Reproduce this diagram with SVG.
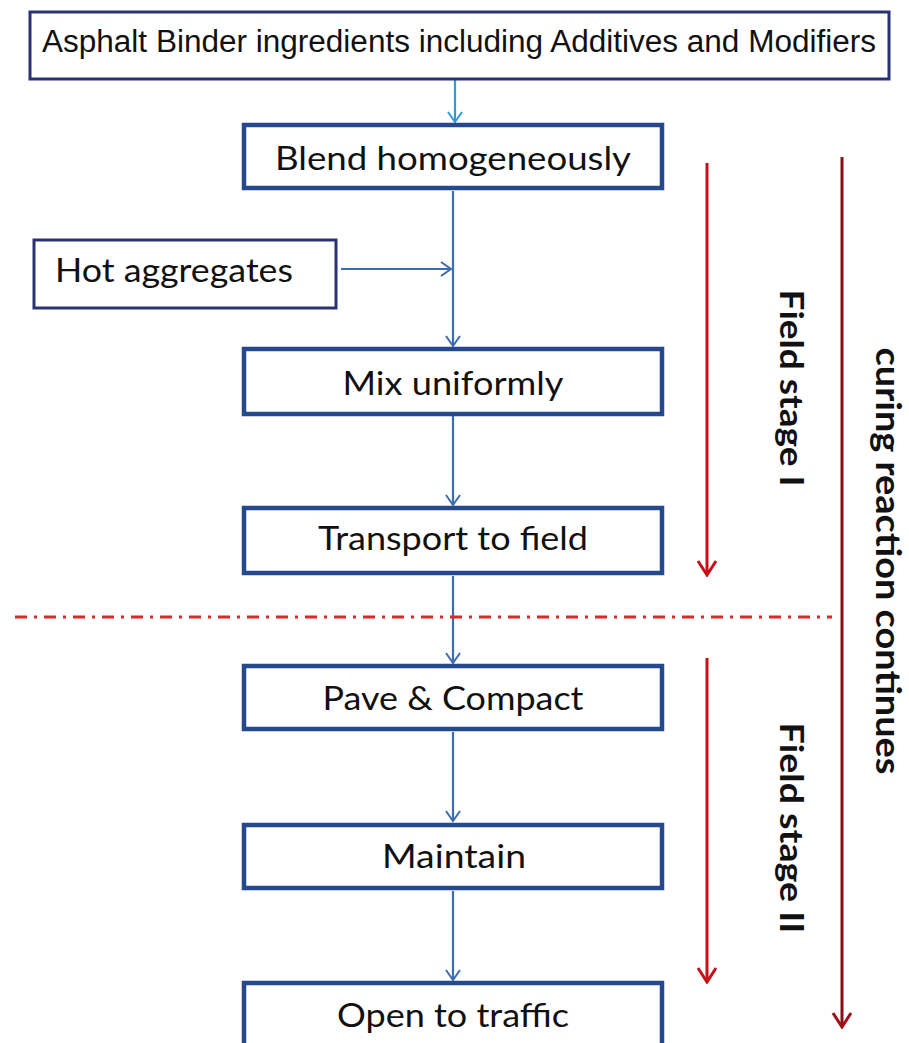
<svg xmlns="http://www.w3.org/2000/svg" width="909" height="1043" viewBox="0 0 909 1043">
<style>
.box{fill:#ffffff;stroke:#25498a;stroke-width:4.5}
.inbox{fill:#ffffff;stroke:#2b3274;stroke-width:3}
.lbl{font-family:Lato,"Open Sans","Liberation Sans",sans-serif;font-size:32px;fill:#111111;text-anchor:middle}
.arial{font-family:"Liberation Sans",Arial,sans-serif;font-size:31px;fill:#111111}
.side{font-family:Lato,"Open Sans","Liberation Sans",sans-serif;font-weight:bold;fill:#111111;text-anchor:middle}
.conn{fill:none;stroke:#3d6db0;stroke-width:2.2}
.red{fill:none;stroke:#c8101a;stroke-width:3}
.dark{fill:none;stroke:#8a0f14;stroke-width:3}
</style>
<defs>
<marker id="ab" viewBox="-12 -8 14 16" refX="0" refY="0" markerWidth="14" markerHeight="16" markerUnits="userSpaceOnUse" orient="auto">
<path d="M-10,-7 L0,0 L-10,7" fill="none" stroke="#3d6db0" stroke-width="2"/>
</marker>
<marker id="alb" viewBox="-12 -8 14 16" refX="0" refY="0" markerWidth="14" markerHeight="16" markerUnits="userSpaceOnUse" orient="auto">
<path d="M-10,-7 L0,0 L-10,7" fill="none" stroke="#2f9bd7" stroke-width="2"/>
</marker>
<marker id="ar" viewBox="-16 -11 18 22" refX="0" refY="0" markerWidth="18" markerHeight="22" markerUnits="userSpaceOnUse" orient="auto">
<path d="M-14,-9 L0,0 L-14,9" fill="none" stroke="#c8101a" stroke-width="3"/>
</marker>
<marker id="ad" viewBox="-16 -11 18 22" refX="0" refY="0" markerWidth="18" markerHeight="22" markerUnits="userSpaceOnUse" orient="auto">
<path d="M-14,-9 L0,0 L-14,9" fill="none" stroke="#a3101a" stroke-width="3"/>
</marker>
</defs>
<rect x="0" y="0" width="909" height="1043" fill="#ffffff"/>

<g id="connectors">
<line class="conn" x1="455" y1="80" x2="455" y2="122" style="stroke:#2f9bd7" marker-end="url(#alb)"/>
<line class="conn" x1="453" y1="191" x2="453" y2="346" marker-end="url(#ab)"/>
<line class="conn" x1="341" y1="269" x2="451" y2="269" marker-end="url(#ab)"/>
<line class="conn" x1="453" y1="416" x2="453" y2="505" marker-end="url(#ab)"/>
<line class="conn" x1="453" y1="576" x2="453" y2="663" marker-end="url(#ab)"/>
<line class="conn" x1="453" y1="732" x2="453" y2="821" marker-end="url(#ab)"/>
<line class="conn" x1="453" y1="891" x2="453" y2="980" marker-end="url(#ab)"/>
</g>

<g id="stage-divider">
<line x1="15" y1="617" x2="832" y2="617" stroke="#d42a2a" stroke-width="3" stroke-dasharray="12 7 3 7"/>
</g>

<g id="stage-arrows">
<line class="red" x1="707" y1="163" x2="707" y2="575" marker-end="url(#ar)"/>
<line class="red" x1="707" y1="658" x2="707" y2="982" marker-end="url(#ar)"/>
<line class="dark" x1="842" y1="157" x2="842" y2="1027" marker-end="url(#ad)"/>
</g>

<g id="node-ingredients">
<rect class="inbox" x="30" y="12" width="859" height="67"/>
<text class="arial" x="42" y="52" textLength="834" lengthAdjust="spacingAndGlyphs">Asphalt Binder ingredients including Additives and Modifiers</text>
</g>
<g id="node-blend">
<rect class="box" x="244" y="125" width="418" height="63"/>
<text class="lbl" x="453" y="170" textLength="356" lengthAdjust="spacingAndGlyphs">Blend homogeneously</text>
</g>
<g id="node-hot">
<rect class="inbox" x="34" y="240" width="302" height="68"/>
<text class="lbl" x="55" y="282" style="text-anchor:start" textLength="238" lengthAdjust="spacingAndGlyphs">Hot aggregates</text>
</g>
<g id="node-mix">
<rect class="box" x="244" y="349" width="418" height="65"/>
<text class="lbl" x="453" y="395" textLength="221" lengthAdjust="spacingAndGlyphs">Mix uniformly</text>
</g>
<g id="node-transport">
<rect class="box" x="244" y="508" width="418" height="65"/>
<text class="lbl" x="453" y="550" textLength="270" lengthAdjust="spacingAndGlyphs">Transport to field</text>
</g>
<g id="node-pave">
<rect class="box" x="244" y="666" width="418" height="63"/>
<text class="lbl" x="453" y="710" textLength="261" lengthAdjust="spacingAndGlyphs">Pave &amp; Compact</text>
</g>
<g id="node-maintain">
<rect class="box" x="244" y="825" width="418" height="63"/>
<text class="lbl" x="454" y="868" textLength="144" lengthAdjust="spacingAndGlyphs">Maintain</text>
</g>
<g id="node-open">
<rect class="box" x="244" y="983" width="418" height="80"/>
<text class="lbl" x="453" y="1027" textLength="232" lengthAdjust="spacingAndGlyphs">Open to traffic</text>
</g>

<g id="label-stage1">
<text class="side" font-size="32" transform="translate(780,388) rotate(90)" textLength="197" lengthAdjust="spacingAndGlyphs">Field stage I</text>
</g>
<g id="label-stage2">
<text class="side" font-size="32" transform="translate(780,828) rotate(90)" textLength="211" lengthAdjust="spacingAndGlyphs">Field stage II</text>
</g>
<g id="label-curing">
<text class="side" font-size="34" transform="translate(876,561) rotate(90)" textLength="427" lengthAdjust="spacingAndGlyphs">curing reaction continues</text>
</g>
</svg>
